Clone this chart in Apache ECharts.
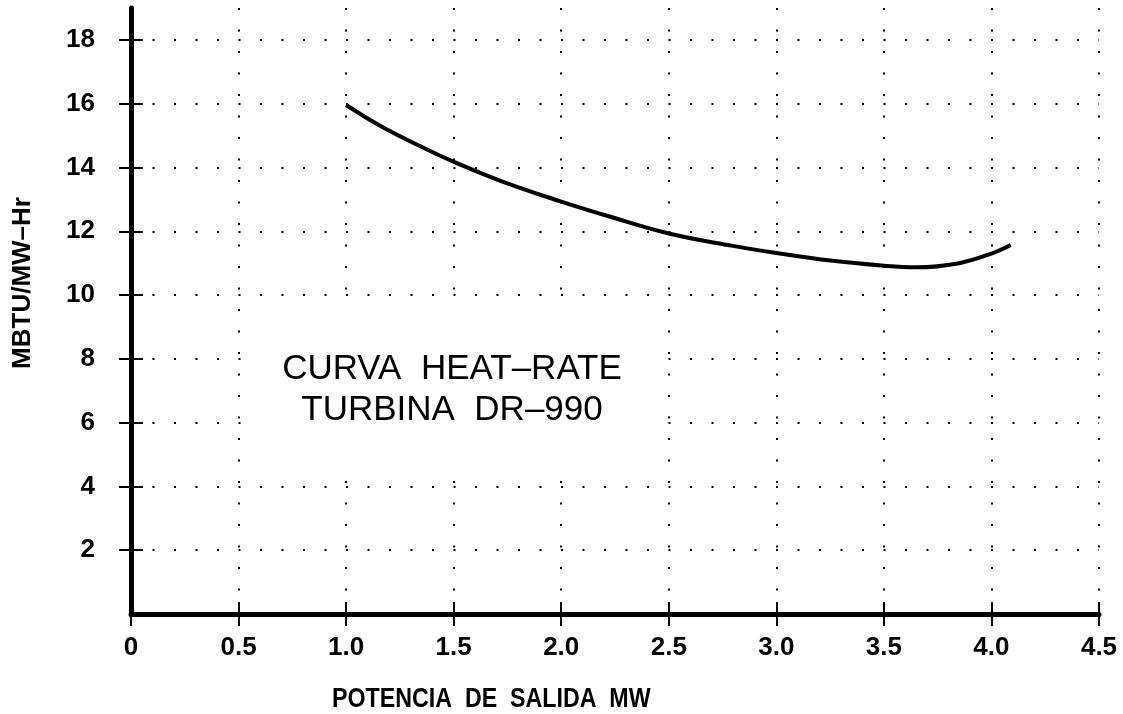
<!DOCTYPE html>
<html><head><meta charset="utf-8">
<script src="https://cdn.jsdelivr.net/npm/echarts@6/dist/echarts.min.js"></script>
<style>html,body{margin:0;padding:0;background:#fff}#c{width:1123px;height:714px}</style>
</head><body><div id="c"></div>
<script>
// ---- data ----
const xTickValues = [0, 0.5, 1.0, 1.5, 2.0, 2.5, 3.0, 3.5, 4.0, 4.5];
const yTickValues = [2, 4, 6, 8, 10, 12, 14, 16, 18];
const powerMW  = [1.0, 1.16, 1.34, 1.5, 1.73, 2.0, 2.22, 2.5, 2.79, 3.0, 3.25, 3.5, 3.65, 3.85, 4.0, 4.09];
const heatRate = [15.96, 15.30, 14.68, 14.18, 13.55, 12.93, 12.47, 11.93, 11.55, 11.32, 11.08, 10.92, 10.87, 11.0, 11.3, 11.57];
const titleLines = ['CURVA  HEAT–RATE', 'TURBINA  DR–990'];
const xName = 'POTENCIA  DE  SALIDA  MW';
const yName = 'MBTU/MW–Hr';

const FONT = '"Liberation Sans", Arial, Helvetica, sans-serif';
const dotted = { type: [2, 19.5], width: 2, color: '#000' };
const tickStyle = { width: 2, color: '#000' };

const chart = echarts.init(document.getElementById('c'), null, { renderer: 'canvas' });
const curve = powerMW.map((x, i) => [x, heatRate[i]]);

chart.setOption({
  animation: false,
  backgroundColor: '#fff',
  grid: { left: 131, right: 24, top: 8, bottom: 100, containLabel: false },
  xAxis: [
    {
      type: 'value', min: 0, max: 4.5, interval: 0.5,
      axisLine: { show: true, onZero: false, lineStyle: { color: '#000', width: 5 } },
      axisTick: { show: true, length: 12, customValues: xTickValues, lineStyle: tickStyle },
      axisLabel: {
        show: true, margin: 21, customValues: xTickValues,
        color: '#000', fontFamily: FONT, fontWeight: 'bold', fontSize: 26,
        formatter: v => (v === 0 ? '0' : v.toFixed(1))
      },
      splitLine: { show: true, lineStyle: dotted }
    },
    {
      type: 'value', min: 0, max: 4.5, interval: 0.5, position: 'bottom', offset: 0,
      axisLine: { show: false, onZero: false },
      axisTick: { show: true, inside: true, length: 12, customValues: xTickValues.slice(1), lineStyle: tickStyle },
      axisLabel: { show: false },
      splitLine: { show: false }
    }
  ],
  yAxis: [
    {
      type: 'value', min: 0, max: 19, position: 'left',
      axisLine: { show: true, onZero: false, lineStyle: { color: '#000', width: 5 } },
      axisTick: { show: true, length: 12, customValues: yTickValues, lineStyle: tickStyle },
      axisLabel: {
        show: true, margin: 36, customValues: yTickValues,
        color: '#000', fontFamily: FONT, fontWeight: 'bold', fontSize: 26
      },
      splitLine: { show: true, lineStyle: dotted }
    },
    {
      type: 'value', min: 0, max: 19, position: 'left', offset: 0,
      axisLine: { show: false, onZero: false },
      axisTick: { show: true, inside: true, length: 12, customValues: yTickValues, lineStyle: tickStyle },
      axisLabel: { show: false },
      splitLine: { show: false }
    }
  ],
  series: [{
    type: 'line',
    xAxisIndex: 0, yAxisIndex: 0,
    data: curve,
    smooth: 0.4,
    showSymbol: false,
    symbol: 'none',
    lineStyle: { color: '#000', width: 4 },
    z: 5
  }]
});

// white box behind the annotation (covers gridlines inside the 0.5–2.5 / 4–10 cell)
const pTL = chart.convertToPixel({ gridIndex: 0 }, [0.52, 9.8]);
const pBR = chart.convertToPixel({ gridIndex: 0 }, [2.48, 4.2]);

chart.setOption({
  graphic: [
    {
      id: 'box', type: 'rect', z: 50, silent: true,
      shape: { x: pTL[0], y: pTL[1], width: pBR[0] - pTL[0], height: pBR[1] - pTL[1] },
      style: { fill: '#fff' }
    },
    {
      id: 'title', type: 'text', z: 100, x: 452, y: 390,
      style: {
        text: titleLines.join('\n'), fill: '#000', font: 'normal 35px ' + FONT,
        align: 'center', verticalAlign: 'middle', lineHeight: 41
      }
    },
    {
      id: 'xname', type: 'text', z: 100, x: 332, y: 700, scaleX: 0.86,
      style: {
        text: xName, fill: '#000', font: 'bold 27px ' + FONT,
        align: 'left', verticalAlign: 'middle'
      }
    },
    {
      id: 'yname', type: 'text', z: 100, x: 23, y: 283, rotation: Math.PI / 2,
      style: {
        text: yName, fill: '#000', font: 'bold 26px ' + FONT,
        align: 'center', verticalAlign: 'middle'
      }
    }
  ]
});
</script>
</body></html>
